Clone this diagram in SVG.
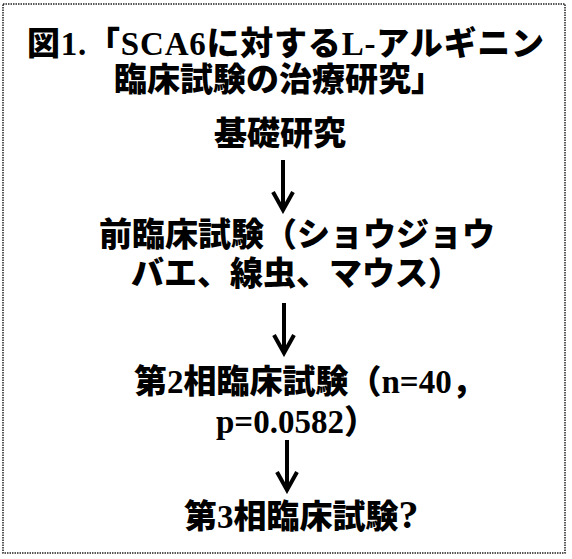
<svg xmlns="http://www.w3.org/2000/svg" width="572" height="559" viewBox="0 0 572 559">
<style>
.t{font-family:"Liberation Serif","Noto Sans CJK JP",serif;font-weight:900;font-size:33px;fill:#000}
.q{font-size:40px}
.frame{fill:none;stroke:#222;stroke-width:1.5;stroke-dasharray:1.5 1}
.arrow{stroke:#000;stroke-width:4;fill:none;marker-end:url(#ah)}
</style>
<defs>
<marker id="ah" markerUnits="userSpaceOnUse" viewBox="0 0 24 24" markerWidth="24" markerHeight="24" refX="19" refY="12" orient="auto">
<path d="M2 2 L20 12 L2 22" fill="none" stroke="#000" stroke-width="4"/>
</marker>
</defs>
<rect class="frame" x="3" y="4" width="562" height="549"/>
<g id="title">
<text class="t" x="27" y="55" textLength="517" lengthAdjust="spacing">図1.「SCA6に対するL-アルギニン</text>
<text class="t" x="114" y="91">臨床試験の治療研究」</text>
</g>
<g id="node-basic"><text class="t" x="214" y="145">基礎研究</text></g>
<g id="node-preclinical">
<text class="t" x="99" y="246">前臨床試験（ショウジョウ</text>
<text class="t" x="131" y="285">バエ、線虫、マウス）</text>
</g>
<g id="node-phase2">
<text class="t" x="134" y="393">第2相臨床試験（n=40，</text>
<text class="t" x="216" y="433">p=0.0582）</text>
</g>
<g id="node-phase3"><text class="t" x="184" y="528">第3相臨床試験<tspan class="q">?</tspan></text></g>
<g id="connectors">
<line class="arrow" x1="283" y1="160" x2="283" y2="209"/>
<line class="arrow" x1="284" y1="303" x2="284" y2="352"/>
<line class="arrow" x1="287" y1="440" x2="287" y2="489"/>
</g>
</svg>
